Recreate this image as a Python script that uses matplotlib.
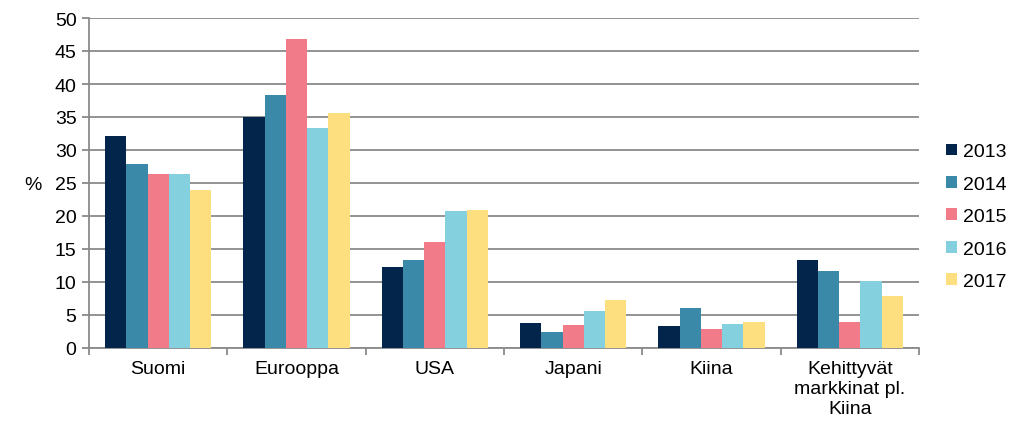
import matplotlib
matplotlib.use("Agg")
import matplotlib.pyplot as plt
import numpy as np

plt.rcParams['font.family'] = ['Liberation Sans', 'DejaVu Sans']

categories = ["Suomi", "Eurooppa", "USA", "Japani", "Kiina", "Kehittyvät\nmarkkinat pl.\nKiina"]
years = ["2013", "2014", "2015", "2016", "2017"]
v2013 = [32.1, 35.0, 12.3, 3.8, 3.4, 13.3]
v2014 = [27.9, 38.3, 13.3, 2.4, 6.05, 11.6]
v2015 = [26.4, 46.8, 16.0, 3.5, 2.9, 4.0]
v2016 = [26.4, 33.3, 20.8, 5.6, 3.7, 10.1]
v2017 = [24.0, 35.6, 20.9, 7.2, 4.0, 7.9]
series = [v2013, v2014, v2015, v2016, v2017]
colors = ["#03254c", "#3a89a9", "#f27b89", "#85d0df", "#fddf7f"]

FS = 14

fig = plt.figure(figsize=(10.24, 4.35), dpi=100)
ax = fig.add_axes([89/1024, 1-349/435, (919-89)/1024, (349-19)/435])

n = len(categories)
x = np.arange(n)
bw = 1/(5+1.5)
for i, (vals, c, y) in enumerate(zip(series, colors, years)):
    ax.bar(x - 2.5*bw + (i+0.5)*bw, vals, width=bw, color=c, label=y, zorder=3)

ax.set_xlim(-0.5, n-0.5)
ax.set_ylim(0, 50)
ax.set_yticks(np.arange(0, 51, 5))
ax.grid(axis='y', color='#8a8a8a', linewidth=1.3, zorder=0)
ax.set_axisbelow(True)
for s in ['top', 'right']:
    ax.spines[s].set_visible(False)
for s in ['left', 'bottom']:
    ax.spines[s].set_color('#8a8a8a')
    ax.spines[s].set_linewidth(1.3)

ax.set_xticks(np.arange(-0.5, n, 1.0))
ax.set_xticklabels([])
ax.set_xticks(x, minor=True)
ax.set_xticklabels(categories, minor=True, fontsize=FS, linespacing=1.2)
ax.tick_params(axis='x', which='minor', length=0, pad=9)
ax.tick_params(axis='x', which='major', length=5, color='#8a8a8a', width=1.3)
ax.tick_params(axis='y', length=5, color='#8a8a8a', width=1.3, labelsize=FS, pad=4)

fig.text(33/1024, 1-186/435, "%", fontsize=FS, ha='center', va='center')

leg = ax.legend(loc='center left', bbox_to_anchor=(1.033, 0.398), frameon=False,
                fontsize=FS, handlelength=0.55, handleheight=0.55, handletextpad=0.3,
                labelspacing=0.79, borderaxespad=0, borderpad=0)

fig.savefig("out.png", dpi=100)
